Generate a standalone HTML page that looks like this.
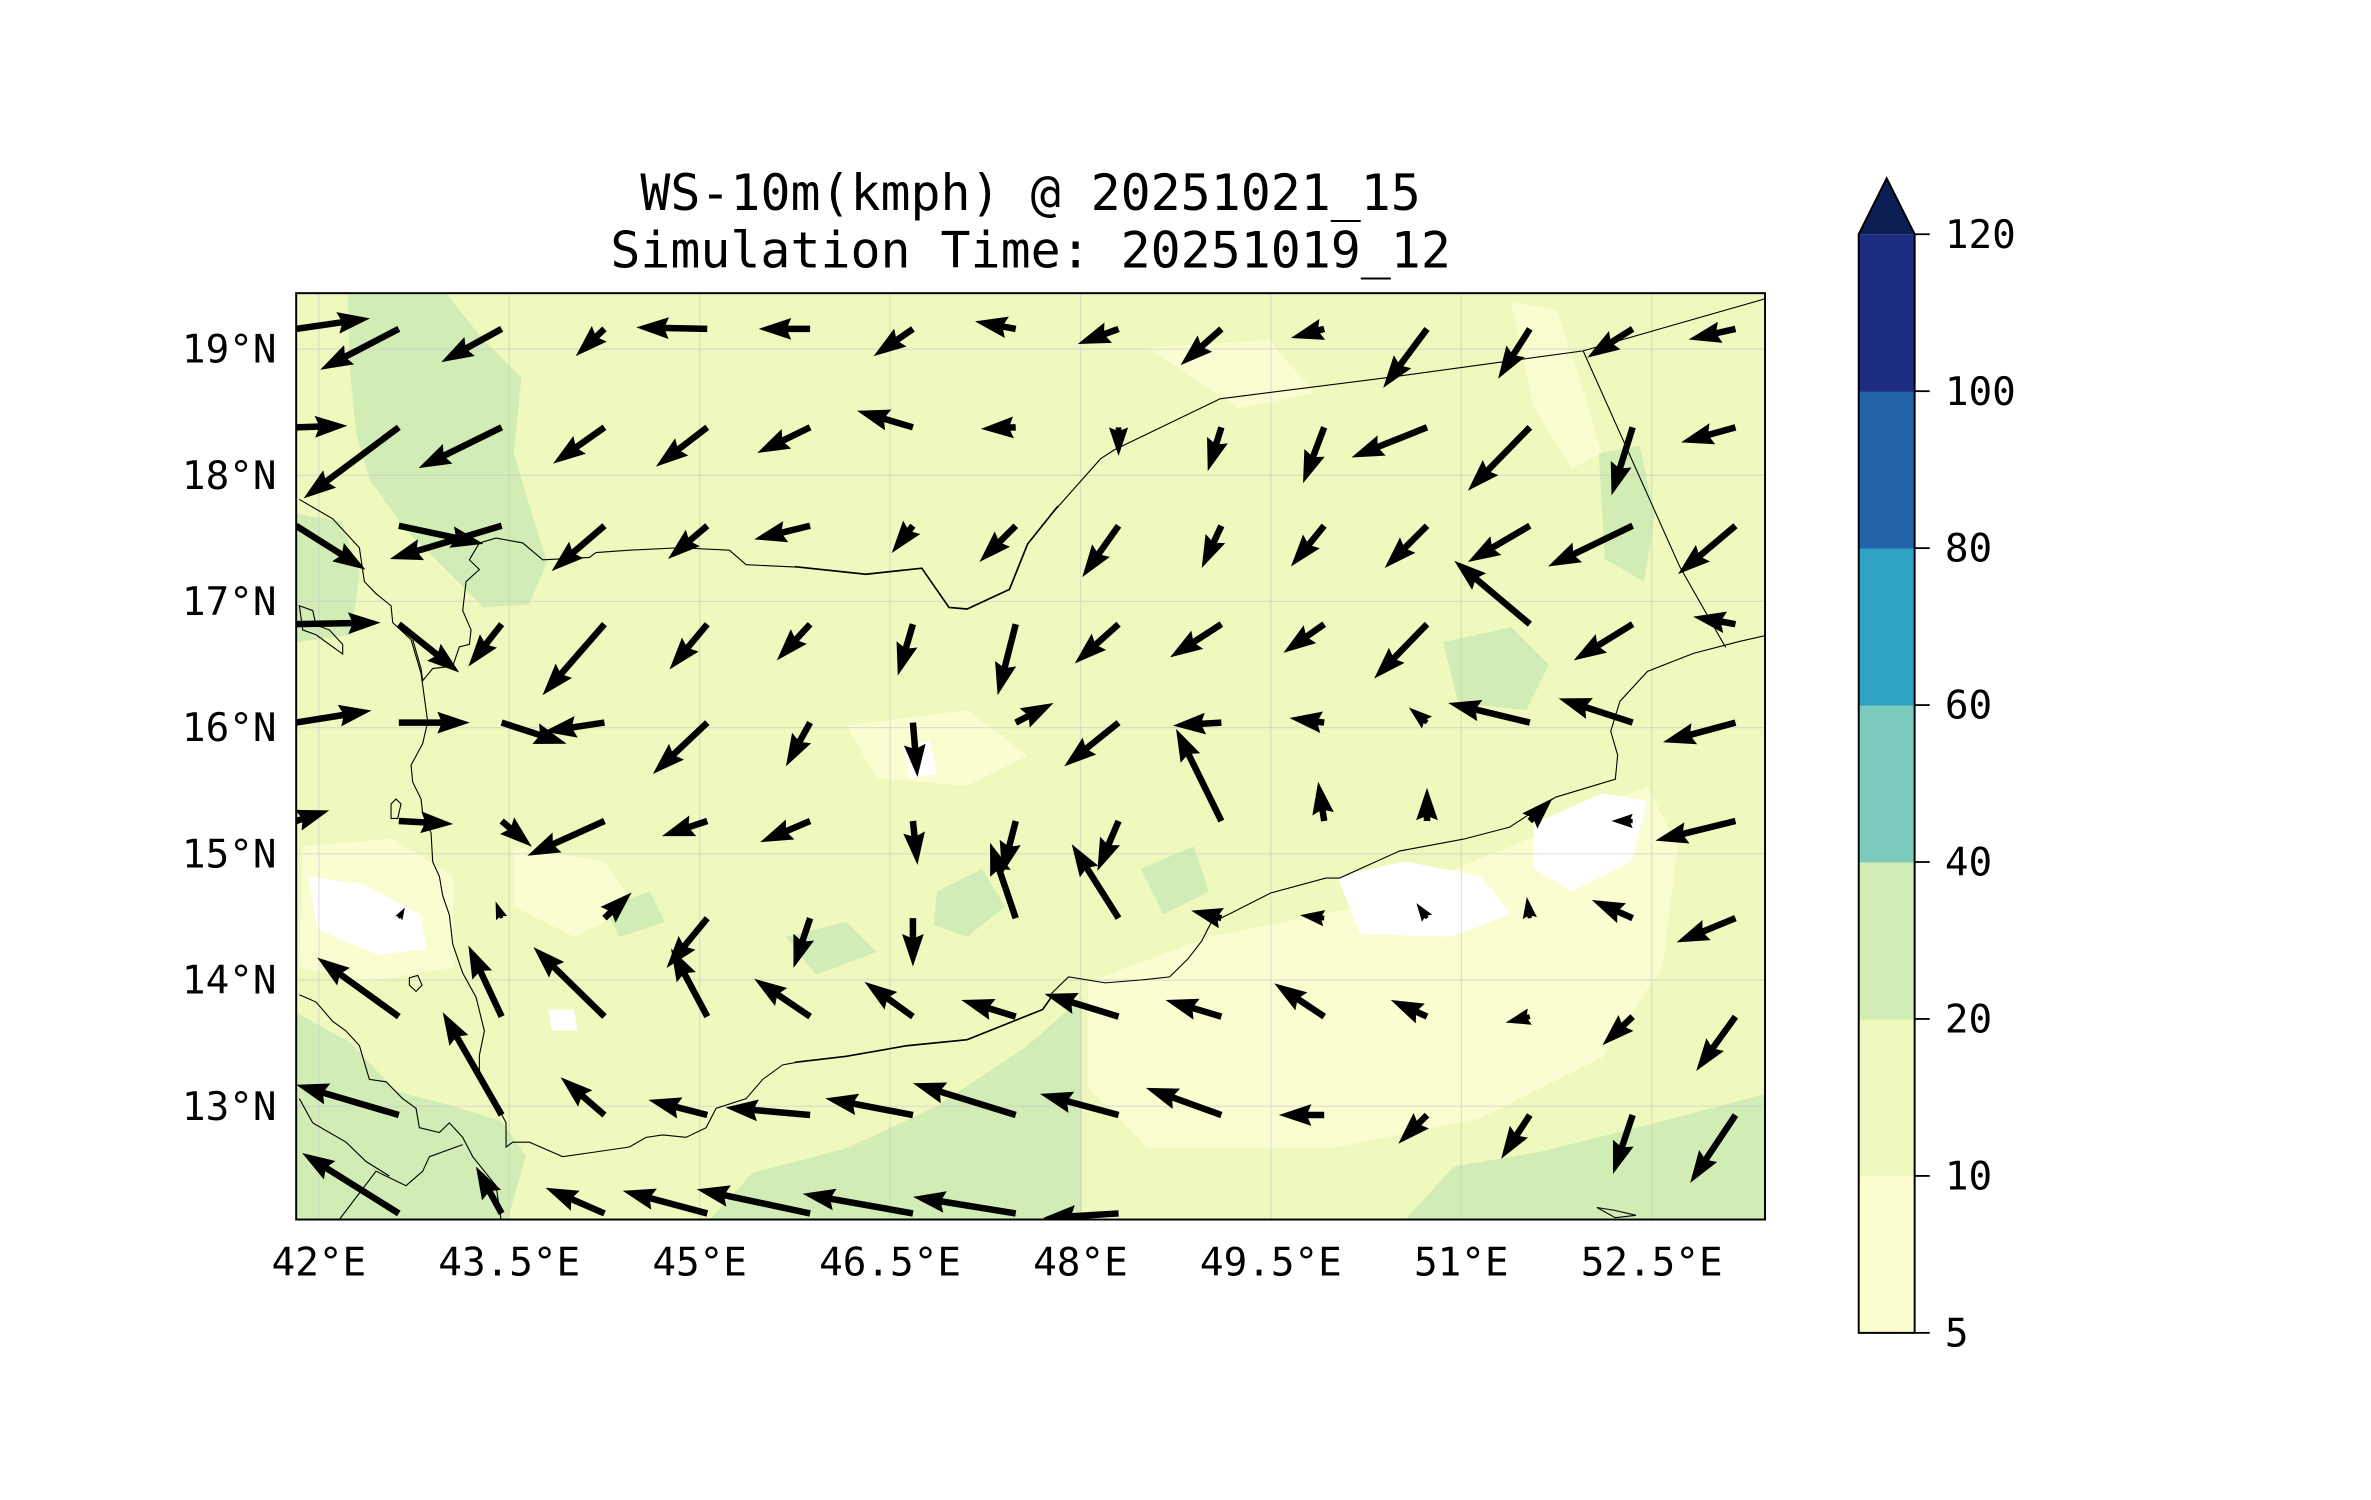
<!DOCTYPE html>
<html><head><meta charset="utf-8"><style>
html,body{margin:0;padding:0;background:#fff;}
svg{display:block;}
text{font-family:"DejaVu Sans Mono","Liberation Mono",monospace;fill:#000;}
</style></head><body>
<svg id="chart" width="2371" height="1500" viewBox="0 0 1569 992.6" preserveAspectRatio="none" xmlns="http://www.w3.org/2000/svg">
<defs><clipPath id="mapclip"><rect x="196" y="194" width="972" height="613"/></clipPath></defs>
<text x="682" y="139" font-size="33" text-anchor="middle">WS-10m(kmph) @ 20251021_15</text>
<text x="682" y="177" font-size="33" text-anchor="middle">Simulation Time: 20251019_12</text>
<g id="map" clip-path="url(#mapclip)">
<rect x="196" y="194" width="972" height="613" fill="#eff8bd"/>
<g fill="#f9fdd0">
<path d="M1000,200 L1030,205 L1045,250 L1060,300 L1040,310 L1015,270 Z"/>
<path d="M720,650 L800,620 L900,600 L1000,560 L1090,520 L1110,560 L1100,640 L1060,700 L980,740 L880,760 L760,760 L720,720 Z"/>
<path d="M200,560 L260,555 L300,580 L300,640 L240,650 L198,640 Z"/>
<path d="M560,480 L640,470 L680,500 L640,520 L580,515 Z"/>
<path d="M340,560 L400,570 L420,600 L380,620 L340,600 Z"/>
<path d="M760,230 L840,225 L870,260 L820,270 Z"/>
</g>
<g fill="#d1ecb4">
<path d="M230,194 L295,194 L320,225 L345,250 L340,300 L352,340 L362,372 L350,400 L320,402 L298,380 L268,350 L245,318 L236,288 L232,250 Z"/>
<path d="M196,340 L226,345 L238,380 L232,420 L196,425 Z"/>
<path d="M196,670 L232,690 L262,722 L300,732 L332,742 L348,765 L336,807 L196,807 Z"/>
<path d="M470,807 L498,776 L560,760 L620,732 L680,692 L716,660 L716,807 Z"/>
<path d="M930,807 L962,772 L1020,762 L1100,742 L1168,724 L1168,807 Z"/>
<path d="M955,425 L1000,415 L1025,440 L1010,470 L965,465 Z"/>
<path d="M1058,300 L1085,295 L1095,340 L1088,385 L1062,370 Z"/>
<path d="M620,590 L650,575 L665,600 L640,620 L618,612 Z"/>
<path d="M755,575 L790,560 L800,590 L770,605 Z"/>
<path d="M400,600 L430,590 L440,610 L410,620 Z"/>
<path d="M520,620 L560,610 L580,630 L540,645 Z"/>
</g>
<g fill="#ffffff">
<path d="M204,580 L240,585 L278,605 L282,628 L250,632 L210,615 Z"/>
<path d="M885,580 L930,570 L980,580 L1000,605 L960,620 L900,618 Z"/>
<path d="M1015,545 L1060,525 L1090,530 L1080,570 L1040,590 L1015,575 Z"/>
<path d="M598,495 L615,490 L620,512 L602,515 Z"/>
<path d="M363,668 L380,668 L382,682 L365,682 Z"/>
</g>
<g stroke="#cccccc" stroke-opacity="0.6" stroke-width="0.8" id="grid"></g>
<g transform="translate(195.9,317.7) scale(0.2206,0.3198)" fill="none" stroke="#000">
<path vector-effect="non-scaling-stroke" stroke-width="1.1" d="M10,40 L110,80 L190,140 L205,210 L240,235 L285,260 L290,295 L345,330 L375,400 L395,500 L380,545 L345,590 L350,625 L375,660 L380,690 L405,730 L410,790 L430,820 L440,860 L460,900 L470,960 L500,1020 L540,1070 L565,1140 L550,1190 L550,1230 L600,1290 L630,1330 L630,1380 L650,1370 L700,1370 L800,1400 L900,1390 L1000,1380 L1050,1360 L1100,1355 L1170,1360 L1230,1340 L1260,1300 L1350,1280 L1400,1240 L1460,1210 L1500,1205"/>
<path vector-effect="non-scaling-stroke" stroke-width="1.1" d="M350,330 L375,390 L380,415 L410,390 L470,385 L490,345 L520,340 L525,310 L500,270 L510,210 L550,185 L520,165 L550,130 L600,120 L680,130 L740,165 L880,160 L900,150 L1000,145 L1150,140 L1300,145 L1350,175 L1500,180"/>
<path vector-effect="non-scaling-stroke" stroke-width="1.1" d="M10,1065 L60,1080 L110,1120 L150,1140 L190,1170 L220,1240 L270,1245 L320,1280 L360,1300 L370,1340 L430,1350 L460,1330 L500,1360 L530,1400 L600,1460 L615,1530"/>
<path vector-effect="non-scaling-stroke" stroke-width="1.1" d="M130,1530 L240,1430 L330,1460 L380,1430 L400,1400 L500,1375"/>
<path vector-effect="non-scaling-stroke" stroke-width="1.1" d="M10,1280 L50,1330 L150,1370 L210,1410 L280,1440"/>
<path vector-effect="non-scaling-stroke" stroke-width="1.1" d="M10,260 L50,270 L60,300 L100,310 L140,340 L140,360 L60,320 L20,310 Z"/>
<path vector-effect="non-scaling-stroke" stroke-width="1.1" d="M285,670 L300,660 L315,670 L305,700 L285,700 Z"/>
<path vector-effect="non-scaling-stroke" stroke-width="1.1" d="M340,1030 L365,1025 L378,1045 L360,1058 L340,1045 Z"/>
</g>
<g fill="none" stroke="#000" stroke-width="1.1">
<path d="M526,375 L573,380 L610,376 L628,402 L640,403 L668,390 L680,360 L700,335"/>
<path d="M526,703 L560,699 L600,692 L640,688 L660,680 L690,668 L697,658"/>
</g>
<g transform="translate(694.9,198.5) scale(0.3041,0.3964)" fill="none" stroke="#000">
<path vector-effect="non-scaling-stroke" stroke-width="1.1" d="M0,1160 L40,1130 L120,1140 L200,1135 L260,1130 L300,1100 L330,1070 L350,1040 L390,1025 L480,990 L600,965 L630,965 L760,920 L900,900 L1000,880 L1100,830 L1230,800 L1235,760 L1220,720 L1240,670 L1300,620 L1400,590 L1500,570 L1570,558"/>
<path vector-effect="non-scaling-stroke" stroke-width="1.1" d="M0,360 L110,265 L140,250 L370,165 L730,130 L1160,85 L1570,-5"/>
<path vector-effect="non-scaling-stroke" stroke-width="1.1" d="M1160,85 L1370,445 L1470,580"/>
<path vector-effect="non-scaling-stroke" stroke-width="1.1" d="M1190,1515 L1230,1520 L1275,1528 L1230,1532 Z"/>
</g>
<g id="arrows"></g>
</g>
<rect x="196" y="194" width="972" height="613" fill="none" stroke="#000" stroke-width="1.3"/>
<g id="axes"></g>
<g id="cbar"></g>
</svg>
<script>
// ---- data ----
const lonTicks = [42, 43.5, 45, 46.5, 48, 49.5, 51, 52.5];
const lonTickLabels = ["42°E","43.5°E","45°E","46.5°E","48°E","49.5°E","51°E","52.5°E"];
const latTicks = [19, 18, 17, 16, 15, 14, 13];
const latTickLabels = ["19°N","18°N","17°N","16°N","15°N","14°N","13°N"];
const gridLons = [41.82,42.63,43.44,44.25,45.06,45.87,46.68,47.49,48.30,49.11,49.92,50.73,51.54,52.35,53.16];
const gridLats = [19.16,18.38,17.60,16.82,16.04,15.26,14.49,13.71,12.93,12.15];
const U = [
[49,-52,-40,-19,-47,-34,-26,-27,-27,-27,-22,-29,-21,-30,-31],
[34,-63,-55,-34,-34,-35,-37,-23,0,-9,-14,-50,-41,-14,-36],
[46,56,-74,-35,-26,-37,-14,-24,-24,-13,-22,-28,-41,-56,-38],
[56,40,-22,-41,-25,-22,-10,-12,-29,-34,-27,-35,-50,-39,-28],
[50,47,43,-40,-36,-16,3,25,-36,-32,-23,-12,-54,-49,-48],
[22,36,20,-51,-30,-33,3,-9,-14,-30,-4,0,15,-14,-53],
[0,4,-4,18,-27,-11,0,-17,-31,-20,-16,-7,-2,-27,-39],
[0,-54,-22,-47,-24,-37,-32,-36,-49,-37,-33,-24,-16,-20,-26],
[0,-68,-39,-29,-39,-56,-58,-68,-52,-50,-30,-19,-19,-13,-30],
[0,-64,-17,-39,-56,-75,-73,-68,-50,0,0,0,0,0,0]
];
const V = [
[7,-27,-22,-18,1,0,-18,5,-10,-24,-6,-39,-33,-19,-7],
[1,-47,-27,-24,-26,-17,11,-1,-19,-29,-37,-20,-42,-45,-10],
[-29,-12,-22,-30,-22,-9,-18,-24,-34,-28,-27,-28,-24,-27,-32],
[1,-32,-28,-47,-30,-24,-34,-47,-26,-22,-19,-36,42,-24,5],
[8,0,-14,-6,-34,-29,-36,13,-29,-2,3,10,13,16,-13],
[7,-2,-17,-23,-10,-14,-29,-35,-33,61,26,22,15,0,-13],
[0,7,11,17,-33,-33,-32,50,49,5,2,10,14,12,-16],
[0,39,47,46,45,25,23,11,15,11,22,11,-4,-19,-36],
[0,20,68,25,10,5,11,21,14,18,0,-19,-29,-39,-45],
[0,40,31,17,15,16,13,11,-3,0,0,0,0,0,0]
];
const cbLevels = [5,10,20,40,60,80,100,120];
const cbColors = ["#fcfed0","#eff8bd","#d1ecb4","#7ccabb","#2fa4c5","#2263aa","#1d2d81"];
const cbExtendColor = "#0b1f55";

// ---- axis functions ----
const SVGNS = "http://www.w3.org/2000/svg";
function xScale(lon){ return 211 + (lon - 42) * 84.0; }
function yScale(lat){ return 231 + (19 - lat) * 83.5; }
const arrowScale = 1.0;

const grid = document.getElementById('grid');
lonTicks.forEach(function(l){
  const ln = document.createElementNS(SVGNS,'line');
  
  
  ln.setAttribute('x1',xScale(l)); ln.setAttribute('x2',xScale(l));
  ln.setAttribute('y1',194); ln.setAttribute('y2',807);
  grid.appendChild(ln);
});
latTicks.forEach(function(l){
  const ln = document.createElementNS(SVGNS,'line');
  
  
  ln.setAttribute('x1',196); ln.setAttribute('x2',1168);
  ln.setAttribute('y1',yScale(l)); ln.setAttribute('y2',yScale(l));
  grid.appendChild(ln);
});

const axes = document.getElementById('axes');
lonTicks.forEach(function(l,i){
  const t = document.createElementNS(SVGNS,'text');
  
  
  t.setAttribute('x',xScale(l)); t.setAttribute('y',844);
  t.setAttribute('font-size','26'); t.setAttribute('text-anchor','middle');
  t.textContent = lonTickLabels[i];
  axes.appendChild(t);
});
latTicks.forEach(function(l,i){
  const t = document.createElementNS(SVGNS,'text');
  
  
  t.setAttribute('x',183); t.setAttribute('y',yScale(l)+9);
  t.setAttribute('font-size','26'); t.setAttribute('text-anchor','end');
  t.textContent = latTickLabels[i];
  axes.appendChild(t);
});

const arrows = document.getElementById('arrows');
const W = 4.3, HL = 21.5, HAL = 19.4, HW = 7.2;
for (let j = 0; j < gridLats.length; j++) {
  for (let i = 0; i < gridLons.length; i++) {
    const dx = U[j][i] * arrowScale, dy = -V[j][i] * arrowScale;
    const L = Math.hypot(dx, dy);
    if (L < 1) continue;
    const s = L < HL ? L / HL : 1;
    const w = W * s / 2, hl = HL * s, hal = HAL * s, hw = HW * s;
    const pts = [[0,-w],[L-hal,-w],[L-hl,-hw],[L,0],[L-hl,hw],[L-hal,w],[0,w]];
    const ang = Math.atan2(dy, dx);
    const c = Math.cos(ang), sn = Math.sin(ang);
    const x0 = xScale(gridLons[i]), y0 = yScale(gridLats[j]);
    const p = pts.map(function(q){ return (x0 + q[0]*c - q[1]*sn).toFixed(2) + ',' + (y0 + q[0]*sn + q[1]*c).toFixed(2); }).join(' ');
    const poly = document.createElementNS(SVGNS,'polygon');
    
    
    poly.setAttribute('points', p);
    poly.setAttribute('fill','#000');
    arrows.appendChild(poly);
  }
}

const cb = document.getElementById('cbar');
const cbX = 1230, cbW = 37, cbTop = 155, cbBot = 882;
function cbY(i){ return cbBot - i * (cbBot - cbTop) / (cbLevels.length - 1); }
for (let i = 0; i < cbColors.length; i++) {
  const r = document.createElementNS(SVGNS,'rect');
  
  
  r.setAttribute('x',cbX); r.setAttribute('width',cbW);
  r.setAttribute('y',cbY(i+1)); r.setAttribute('height',cbY(i)-cbY(i+1)+0.3);
  r.setAttribute('fill',cbColors[i]);
  cb.appendChild(r);
}
const tri = document.createElementNS(SVGNS,'polygon');


tri.setAttribute('points', cbX+','+cbTop+' '+(cbX+cbW/2)+',118 '+(cbX+cbW)+','+cbTop);
tri.setAttribute('fill',cbExtendColor);
cb.appendChild(tri);
const outline = document.createElementNS(SVGNS,'polygon');


outline.setAttribute('points', cbX+','+cbBot+' '+cbX+','+cbTop+' '+(cbX+cbW/2)+',118 '+(cbX+cbW)+','+cbTop+' '+(cbX+cbW)+','+cbBot);
outline.setAttribute('fill','none'); outline.setAttribute('stroke','#000'); outline.setAttribute('stroke-width','1.3');
cb.appendChild(outline);
cbLevels.forEach(function(v,i){
  const y = cbY(i);
  const tk = document.createElementNS(SVGNS,'line');
  
  
  tk.setAttribute('x1',cbX+cbW); tk.setAttribute('x2',cbX+cbW+10);
  tk.setAttribute('y1',y); tk.setAttribute('y2',y);
  tk.setAttribute('stroke','#000'); tk.setAttribute('stroke-width','1.2');
  cb.appendChild(tk);
  const t = document.createElementNS(SVGNS,'text');
  
  
  t.setAttribute('x',cbX+cbW+20); t.setAttribute('y',y+9);
  t.setAttribute('font-size','26');
  t.textContent = String(v);
  cb.appendChild(t);
});
</script>
</body></html>
